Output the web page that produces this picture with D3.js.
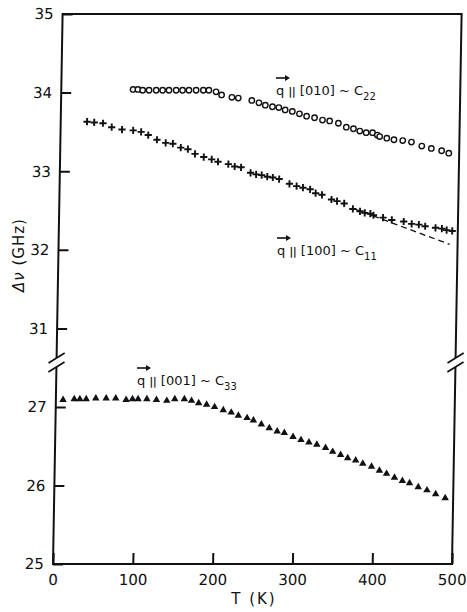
<!DOCTYPE html>
<html>
<head>
<meta charset="utf-8">
<script src="https://cdnjs.cloudflare.com/ajax/libs/d3/7.8.5/d3.min.js"></script>
<style>
  body { margin: 0; background: #fff; }
  text { font-family: "DejaVu Sans", sans-serif; fill: #111; }
</style>
</head>
<body>
<div id="chart"></div>
<script>
// set up chart
var svgWidth = 467;
var svgHeight = 612;

// data (T in K, frequency shift in GHz)
var tC22 = [90, 96, 102, 110, 119, 127, 135, 144, 152, 160, 169, 178, 185, 194, 201, 214, 222, 239, 248, 256,
            265, 273, 281, 290, 299, 308, 318, 328, 337, 348, 358, 367, 375, 383, 391, 397, 400, 409, 418, 429,
            440, 453, 465, 478, 487];
var vC22 = [34.04, 34.04, 34.03, 34.03, 34.03, 34.03, 34.03, 34.03, 34.03, 34.03, 34.03, 34.03, 34.03, 34.01, 33.97, 33.94, 33.93, 33.90, 33.87, 33.84,
            33.82, 33.81, 33.78, 33.76, 33.73, 33.70, 33.68, 33.65, 33.64, 33.61, 33.56, 33.54, 33.51, 33.49, 33.49, 33.46, 33.44, 33.42, 33.40, 33.39,
            33.37, 33.32, 33.29, 33.26, 33.23];

var tC11 = [33, 42, 53, 64, 77, 91, 101, 110, 121, 132, 141, 151, 160, 169, 180, 190, 198, 211, 219, 227,
            239, 246, 253, 260, 267, 275, 288, 297, 305, 314, 321, 329, 341, 348, 357, 368, 377, 383, 390, 394,
            406, 417, 432, 442, 451, 459, 472, 480, 486, 493];
var vC11 = [33.63, 33.62, 33.61, 33.56, 33.53, 33.52, 33.50, 33.46, 33.40, 33.36, 33.35, 33.30, 33.28, 33.22, 33.18, 33.15, 33.12, 33.09, 33.06, 33.05,
            32.98, 32.96, 32.95, 32.93, 32.92, 32.90, 32.84, 32.81, 32.79, 32.77, 32.72, 32.70, 32.64, 32.62, 32.59, 32.52, 32.49, 32.47, 32.46, 32.44,
            32.41, 32.38, 32.36, 32.33, 32.32, 32.30, 32.28, 32.27, 32.25, 32.24];

var tC33 = [9, 23, 30, 38, 50, 63, 75, 88, 96, 103, 114, 126, 139, 149, 161, 170, 179, 189, 199, 210,
            220, 229, 240, 248, 258, 268, 278, 287, 298, 308, 318, 328, 339, 348, 358, 367, 377, 386, 397, 407,
            416, 426, 436, 445, 456, 467, 478, 490];
var vC33 = [27.09, 27.10, 27.10, 27.10, 27.11, 27.11, 27.11, 27.09, 27.10, 27.10, 27.10, 27.09, 27.08, 27.10, 27.10, 27.08, 27.05, 27.03, 27.00, 26.96,
            26.93, 26.89, 26.86, 26.83, 26.78, 26.73, 26.69, 26.67, 26.62, 26.58, 26.55, 26.52, 26.48, 26.43, 26.39, 26.35, 26.32, 26.28, 26.24, 26.19,
            26.15, 26.10, 26.06, 26.03, 25.98, 25.94, 25.89, 25.84];

// dashed linear extrapolation under the C11 points
var dashT = [370, 490];
var dashV = [32.52, 32.07];

var xTicks = [0, 100, 200, 300, 400, 500];
var yTicksUpper = [31, 32, 33, 34, 35];
var yTicksLower = [25, 26, 27];

// plot frame (pixels) and the break in the y axis
var frameLeft = 53, frameRight = 452, frameTop = 14, frameBottom = 564;
var breakY = 363;

var svg = d3.select("#chart")
  .append("svg")
  .attr("width", svgWidth)
  .attr("height", svgHeight);

svg.append("rect")
  .attr("width", svgWidth)
  .attr("height", svgHeight)
  .attr("fill", "#fff");

// the scanned frame leans a little, so shear the plot around the bottom edge
var plot = svg.append("g")
  .attr("transform", `translate(0, ${frameBottom}) skewX(-1) translate(0, ${-frameBottom})`);

var xScale = d3.scaleLinear().domain([0, 500]).range([frameLeft, frameRight]);
var yUpper = d3.scaleLinear().domain([30.56, 35]).range([breakY, frameTop]);
var yLower = d3.scaleLinear().domain([25, 27.56]).range([frameBottom, breakY]);

// axes
var bottomAxis = d3.axisBottom(xScale)
  .tickValues(xTicks)
  .tickSize(-11)
  .tickSizeOuter(0)
  .tickPadding(10)
  .tickFormat(d3.format("d"));

var upperAxis = d3.axisLeft(yUpper)
  .tickValues(yTicksUpper)
  .tickSize(-10)
  .tickSizeOuter(0)
  .tickPadding(9)
  .tickFormat(d3.format("d"));

var lowerAxis = d3.axisLeft(yLower)
  .tickValues(yTicksLower)
  .tickSize(-10)
  .tickSizeOuter(0)
  .tickPadding(9)
  .tickFormat(d3.format("d"));

[
  plot.append("g").attr("transform", `translate(0, ${frameBottom})`).call(bottomAxis),
  plot.append("g").attr("transform", `translate(${frameLeft}, 0)`).call(upperAxis),
  plot.append("g").attr("transform", `translate(${frameLeft}, 0)`).call(lowerAxis)
].forEach(function(ax) {
  ax.select(".domain").remove();
  ax.selectAll("line").attr("stroke", "#111").attr("stroke-width", 2);
  ax.selectAll("text")
    .style("font-family", "'DejaVu Sans', sans-serif")
    .style("font-size", "15px")
    .attr("fill", "#111");
});

// frame with the y-axis break on both sides
var gapTop = breakY - 5, gapBot = breakY + 4;
var frame = plot.append("g")
  .attr("stroke", "#111")
  .attr("stroke-width", 2)
  .attr("fill", "none");

frame.append("path")
  .attr("d", `M${frameLeft},${gapTop} V${frameTop} H${frameRight} V${gapTop}`);
frame.append("path")
  .attr("d", `M${frameLeft},${gapBot} V${frameBottom} H${frameRight} V${gapBot}`);

[frameLeft, frameRight].forEach(function(xp) {
  [gapTop, gapBot].forEach(function(yp) {
    frame.append("line")
      .attr("x1", xp - 8).attr("y1", yp + 5)
      .attr("x2", xp + 8).attr("y2", yp - 5)
      .attr("stroke-width", 1.8);
  });
});

// dashed extrapolation
var dashData = dashT.map(function(t, i) { return [t, dashV[i]]; });
plot.append("path")
  .datum(dashData)
  .attr("d", d3.line().x(d => xScale(d[0])).y(d => yUpper(d[1])))
  .attr("fill", "none")
  .attr("stroke", "#111")
  .attr("stroke-width", 1.3)
  .attr("stroke-dasharray", "6,4");

// C22: open circles
plot.append("g").selectAll("circle")
  .data(tC22)
  .enter()
  .append("circle")
  .attr("cx", d => xScale(d))
  .attr("cy", (d, i) => yUpper(vC22[i]))
  .attr("r", 2.7)
  .attr("fill", "#fff")
  .attr("stroke", "#111")
  .attr("stroke-width", 1.4);

// C11: plus signs
plot.append("g").selectAll("path")
  .data(tC11)
  .enter()
  .append("path")
  .attr("transform", (d, i) => `translate(${xScale(d)}, ${yUpper(vC11[i])})`)
  .attr("d", "M-3.6,0H3.6M0,-3.6V3.6")
  .attr("stroke", "#111")
  .attr("stroke-width", 1.9);

// C33: filled triangles
plot.append("g").selectAll("path")
  .data(tC33)
  .enter()
  .append("path")
  .attr("transform", (d, i) => `translate(${xScale(d)}, ${yLower(vC33[i])})`)
  .attr("d", d3.symbol().type(d3.symbolTriangle).size(24))
  .attr("fill", "#111");

// series labels: arrow over q, then "|| [hkl] ~ Cij"
function addLabel(x, y, dir, sub) {
  var g = svg.append("g").attr("transform", `translate(${x}, ${y})`);
  g.append("path")
    .attr("d", "M0,-17 H11")
    .attr("stroke", "#111")
    .attr("stroke-width", 1.6);
  g.append("path")
    .attr("d", "M14,-17 L9,-20 L9,-14 Z")
    .attr("fill", "#111");
  var t = g.append("text")
    .style("font-size", "13px");
  t.append("tspan").text("q ");
  t.append("tspan").style("font-size", "10px").style("font-weight", "bold").text("||");
  t.append("tspan").text(" [" + dir + "] ~ C");
  t.append("tspan")
    .attr("dy", 5)
    .style("font-size", "10px")
    .text(sub);
}

addLabel(276, 95, "010", "22");
addLabel(277, 255, "100", "11");
addLabel(137, 385, "001", "33");

// axis titles
svg.append("text")
  .attr("x", 254)
  .attr("y", 604)
  .attr("text-anchor", "middle")
  .style("font-size", "15px")
  .style("letter-spacing", "2px")
  .text("T (K)");

var yTitle = svg.append("text")
  .attr("transform", "translate(24, 255) rotate(-90)")
  .attr("text-anchor", "middle")
  .style("font-size", "15px")
  .style("letter-spacing", "1px");
yTitle.append("tspan").style("font-style", "italic").text("\u0394\u03bd");
yTitle.append("tspan").text(" (GHz)");
</script>
</body>
</html>
